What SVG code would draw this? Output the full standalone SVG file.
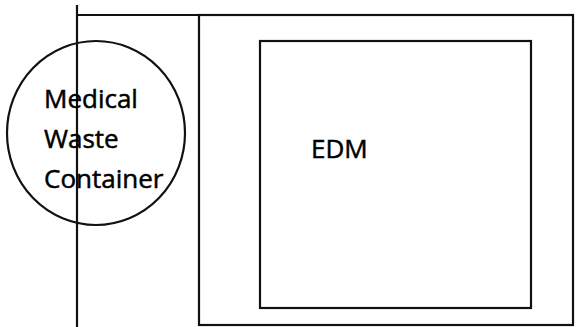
<svg xmlns="http://www.w3.org/2000/svg" width="577" height="327" viewBox="0 0 577 327">
<style>
.ln{fill:none;stroke:#111;stroke-width:2.2}
.lbl{font-family:"Open Sans","Liberation Sans",sans-serif;font-size:26px;fill:#000;stroke:#000;stroke-width:0.5}
</style>
<rect width="577" height="327" fill="#fff"/>
<g id="connectors">
<line class="ln" x1="77" y1="5" x2="77" y2="327"/>
<line class="ln" x1="77" y1="15" x2="199" y2="15"/>
</g>
<g id="outer">
<rect class="ln" x="199" y="15" width="374" height="310"/>
</g>
<g id="edm">
<rect class="ln" x="260" y="41" width="271" height="267"/>
<text class="lbl" x="311" y="158">EDM</text>
</g>
<g id="container">
<ellipse class="ln" cx="96" cy="133" rx="89" ry="92"/>
<text class="lbl" x="44" y="108">Medical</text>
<text class="lbl" x="44" y="148">Waste</text>
<text class="lbl" x="44" y="188">Container</text>
</g>
</svg>
